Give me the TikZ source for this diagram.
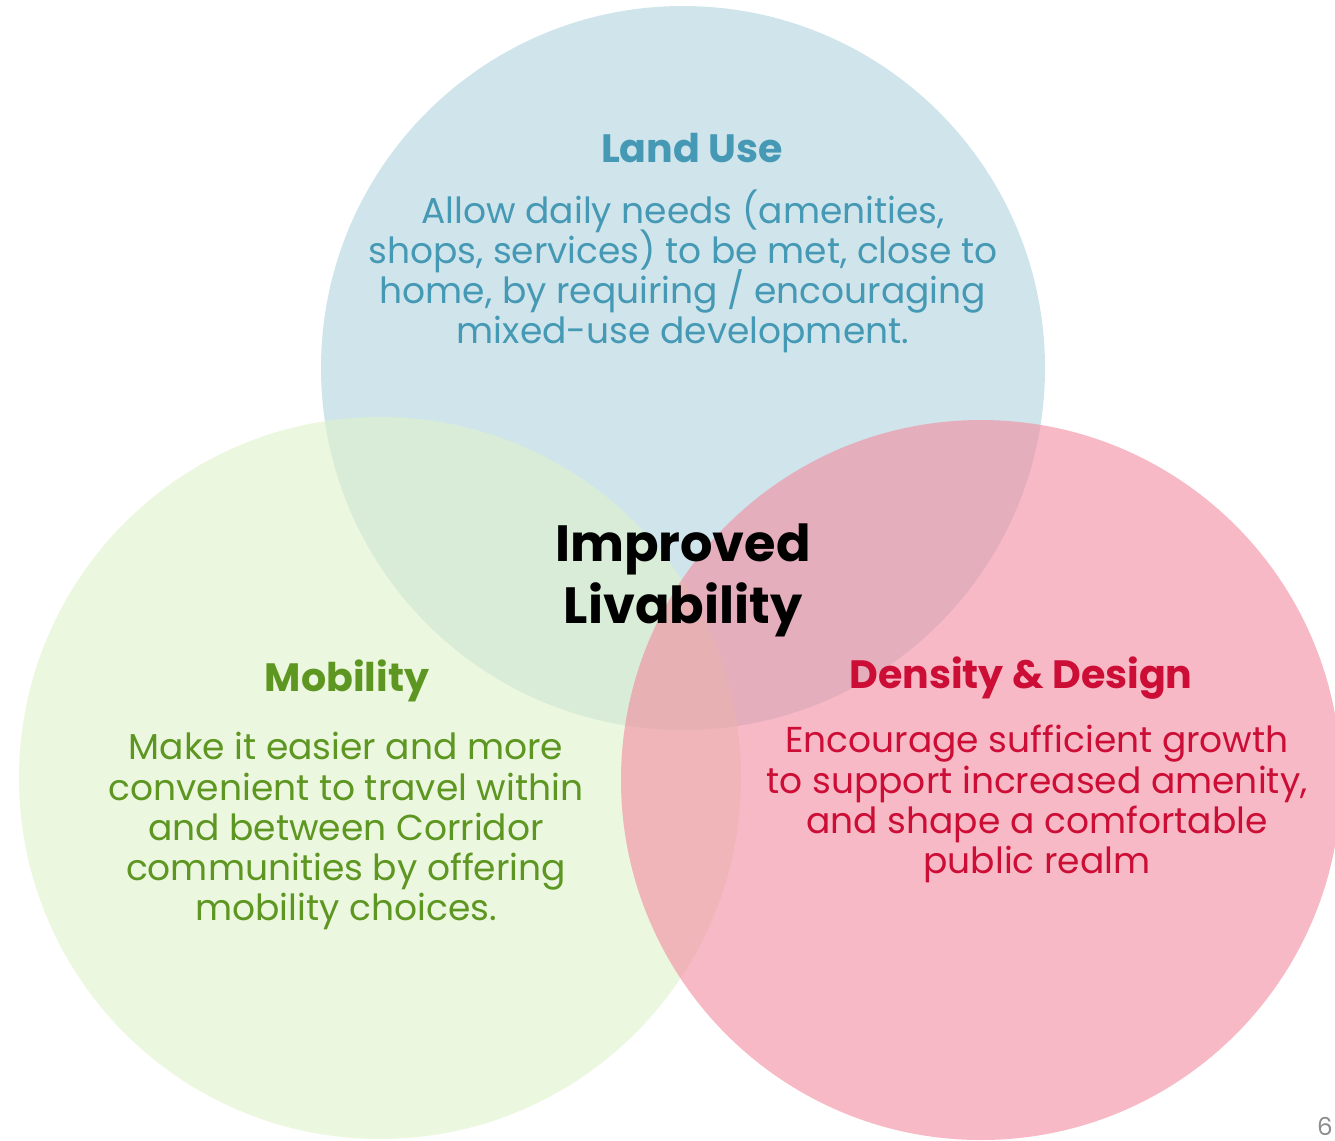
\documentclass[tikz,border=0pt]{standalone}
\usepackage{fontspec}
\setmainfont{Poppins}
\definecolor{landfill}{RGB}{207,229,235}
\definecolor{mobfill}{RGB}{222,242,202}
\definecolor{densfill}{RGB}{242,138,158}
\definecolor{landtext}{RGB}{69,153,181}
\definecolor{mobtext}{RGB}{94,150,34}
\definecolor{denstext}{RGB}{204,14,54}
\newcommand\tightlines{\lineskiplimit=-20pt\relax}
\begin{document}
\begin{tikzpicture}
        % Style definitions
        \tikzset{
            title/.style={font=\fontsize{22.5}{26}\selectfont\bfseries, align=center},
            body/.style={font=\fontsize{20.5}{22.8}\selectfont\tightlines, align=center},
            centre/.style={font=\fontsize{29}{35.2}\selectfont\bfseries\tightlines, align=center, text=black}
        }
        \useasboundingbox (0,0) rectangle (26.7,-22.8);

        % ==========================================
        % CIRCLES
        % ==========================================
        \fill[landfill] (13.66,-7.36) circle [radius=7.24cm];
        \fill[mobfill, fill opacity=0.6] (7.6,-15.56) circle [radius=7.22cm];
        \fill[densfill, fill opacity=0.6] (19.62,-15.6) circle [radius=7.2cm];

        % ==========================================
        % LAND USE
        % ==========================================
        \node[title, text=landtext] (landuse) at (13.84,-2.96) {Land Use};
        \node[body, text=landtext] (landtxt) at (13.66,-5.42)
            {Allow daily needs (amenities,\\ shops, services) to be met, close to\\ home, by requiring / encouraging\\ mixed-use development.};

        % ==========================================
        % MOBILITY
        % ==========================================
        \node[title, text=mobtext] (mobility) at (6.94,-13.62) {Mobility};
        \node[body, text=mobtext] (mobtxt) at (6.92,-16.62)
            {Make it easier and more\\ convenient to travel within\\ and between Corridor\\ communities by offering\\ mobility choices.};

        % ==========================================
        % DENSITY & DESIGN
        % ==========================================
        \node[title, text=denstext] (density) at (20.42,-13.56) {Density \& Design};
        \node[body, text=denstext] (denstxt) at (20.74,-16.08)
            {Encourage sufficient growth\\ to support increased amenity,\\ and shape a comfortable\\ public realm};

        % ==========================================
        % CENTRE
        % ==========================================
        \node[centre] (livability) at (13.66,-11.6) {Improved\\ Livability};

        % page number
        \node[font=\fontsize{14}{16}\selectfont, text=black!45, anchor=east, inner sep=0pt] (pagenum) at (26.66,-22.52) {6};
\end{tikzpicture}
\end{document}
